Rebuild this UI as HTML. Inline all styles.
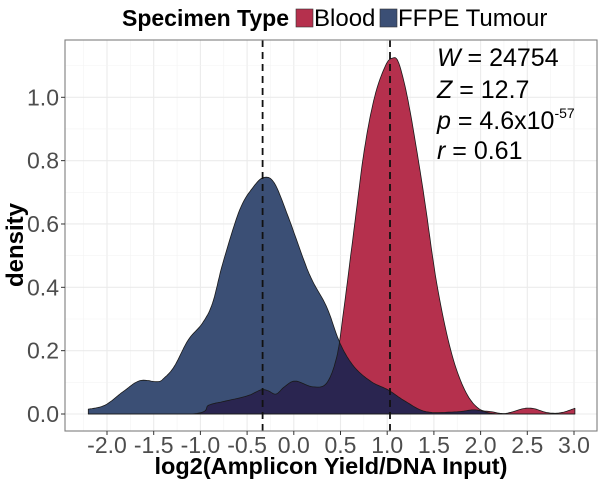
<!DOCTYPE html>
<html><head><meta charset="utf-8"><style>
body{margin:0;background:#fff;}
svg{display:block;font-family:"Liberation Sans",Arial,sans-serif;}
</style></head><body>
<svg id="chart" width="601" height="481">
<g id="grid"></g>
<g id="areas"></g>
<g id="axes"></g>
<text x="122" y="26" font-size="23" font-weight="bold">Specimen Type</text>
<rect x="296" y="9" width="17" height="18" fill="#b5304d" stroke="#333" stroke-width="0.6"/>
<text x="314" y="26" font-size="24">Blood</text>
<rect x="380" y="9" width="17" height="18" fill="#3b4f75" stroke="#333" stroke-width="0.6"/>
<text x="398" y="26" font-size="24">FFPE Tumour</text>
<g font-size="25">
<text x="437" y="66"><tspan font-style="italic">W</tspan> = 24754</text>
<text x="437" y="98"><tspan font-style="italic">Z</tspan> = 12.7</text>
<text x="437" y="129"><tspan font-style="italic">p</tspan> = 4.6x10<tspan font-size="14" dy="-11">-57</tspan></text>
<text x="437" y="159"><tspan font-style="italic">r</tspan> = 0.61</text>
</g>
<text x="331" y="474" font-size="23.5" font-weight="bold" text-anchor="middle">log2(Amplicon Yield/DNA Input)</text>
<text transform="translate(23,245) rotate(-90)" font-size="24" font-weight="bold" text-anchor="middle">density</text>
</svg>
<script>
const ffpeX=[-2.2,-2.02,-1.83,-1.65,-1.46,-1.39,-1.28,-1.13,-0.98,-0.87,-0.76,-0.58,-0.43,-0.317,-0.206,-0.06,0.163,0.35,0.496,0.644,0.83,1.01,1.2,1.42,1.75,1.94,2.12,2.31,3.01];
const ffpeY=[0.015,0.028,0.07,0.105,0.102,0.113,0.15,0.234,0.286,0.35,0.476,0.644,0.718,0.747,0.728,0.623,0.444,0.339,0.223,0.15,0.102,0.076,0.039,0.007,0.007,0.013,0.002,0,0];
const bloodX=[-2.2,-1.09,-0.91,-0.76,-0.5,-0.354,-0.28,-0.19,-0.1,0.016,0.2,0.35,0.46,0.53,0.644,0.755,0.866,0.977,1.05,1.125,1.236,1.384,1.53,1.68,1.83,1.976,2.12,2.27,2.46,2.57,2.72,2.86,3.01];
const bloodY=[0,0,0.028,0.039,0.057,0.076,0.074,0.063,0.086,0.104,0.086,0.097,0.181,0.318,0.581,0.834,1.002,1.097,1.123,1.107,0.97,0.707,0.413,0.202,0.076,0.018,0.007,0.002,0.017,0.017,0.004,0.004,0.018];
const xTicks=[-2,-1.5,-1,-0.5,0,0.5,1,1.5,2,2.5,3];
const xTickLabels=["-2.0","-1.5","-1.0","-0.5","0.0","0.5","1.0","1.5","2.0","2.5","3.0"];
const yTicks=[0,0.2,0.4,0.6,0.8,1.0];
const yTickLabels=["0.0","0.2","0.4","0.6","0.8","1.0"];
const vlines=[-0.334,1.03];
const NS="http://www.w3.org/2000/svg";
const L=65,R=597,T=40,B=431;
const sx=v=>293.8+v*93.4;
const sy=v=>414-v*316.7;
function mk(tag,attrs,parent){const e=document.createElementNS(NS,tag);for(const k in attrs)e.setAttribute(k,attrs[k]);parent.appendChild(e);return e;}
const grid=document.getElementById('grid'),areas=document.getElementById('areas'),axes=document.getElementById('axes');
mk('rect',{x:L,y:T,width:R-L,height:B-T,fill:'#fff'},grid);
for(let i=0;i<xTicks.length;i++){
  mk('line',{x1:sx(xTicks[i]+0.25),x2:sx(xTicks[i]+0.25),y1:T,y2:B,stroke:'#f3f3f3','stroke-width':0.6},grid);
  const l=mk('line',{x1:sx(xTicks[i]),x2:sx(xTicks[i]),y1:T,y2:B,stroke:'#ebebeb','stroke-width':1.1},grid);
  
  
}
mk('line',{x1:sx(-2.25),x2:sx(-2.25),y1:T,y2:B,stroke:'#f3f3f3','stroke-width':0.6},grid);
for(let i=0;i<yTicks.length;i++){
  mk('line',{x1:L,x2:R,y1:sy(yTicks[i]+0.1),y2:sy(yTicks[i]+0.1),stroke:'#f3f3f3','stroke-width':0.6},grid);
  const l=mk('line',{x1:L,x2:R,y1:sy(yTicks[i]),y2:sy(yTicks[i]),stroke:'#ebebeb','stroke-width':1.1},grid);
  
  
}
function smooth(xs,ys){
  const px=[],py=[];
  for(let i=0;i<xs.length-1;i++){
    const x0=xs[Math.max(i-1,0)],y0=ys[Math.max(i-1,0)],x1=xs[i],y1=ys[i],x2=xs[i+1],y2=ys[i+1],x3=xs[Math.min(i+2,xs.length-1)],y3=ys[Math.min(i+2,xs.length-1)];
    for(let s=0;s<10;s++){
      const t=s/10,t2=t*t,t3=t2*t;
      const cx=0.5*((2*x1)+(-x0+x2)*t+(2*x0-5*x1+4*x2-x3)*t2+(-x0+3*x1-3*x2+x3)*t3);
      const cy=0.5*((2*y1)+(-y0+y2)*t+(2*y0-5*y1+4*y2-y3)*t2+(-y0+3*y1-3*y2+y3)*t3);
      px.push(cx);py.push(Math.max(0,cy));
    }
  }
  px.push(xs[xs.length-1]);py.push(ys[ys.length-1]);
  return [px,py];
}
const [fX,fY]=smooth(ffpeX,ffpeY);
const [bX,bY]=smooth(bloodX,bloodY);
function interp(xs,ys,x){if(x<=xs[0])return ys[0];for(let i=1;i<xs.length;i++){if(x<=xs[i]){const d=xs[i]-xs[i-1];const t=d?(x-xs[i-1])/d:0;return ys[i-1]+t*(ys[i]-ys[i-1]);}}return ys[ys.length-1];}
function areaPath(xs,ys){let d='M'+sx(xs[0]).toFixed(1)+','+sy(0);for(let i=0;i<xs.length;i++)d+='L'+sx(xs[i]).toFixed(1)+','+sy(ys[i]).toFixed(1);d+='L'+sx(xs[xs.length-1]).toFixed(1)+','+sy(0)+'Z';return d;}
const pb=mk('path',{d:areaPath(fX,fY),fill:'#3b4f75',stroke:'none'},areas);


const pr=mk('path',{d:areaPath(bX,bY),fill:'#b5304d',stroke:'none'},areas);


const gx=[];for(let v=-2.2;v<=3.01;v+=0.005)gx.push(v);
const gy=gx.map(v=>Math.min(interp(fX,fY,v),interp(bX,bY,v)));
const po=mk('path',{d:areaPath(gx,gy),fill:'#2a2550',stroke:'none'},areas);


mk('path',{d:areaPath(fX,fY),fill:'none',stroke:'#1a1a1a','stroke-width':0.8,'stroke-linejoin':'round'},areas);
mk('path',{d:areaPath(bX,bY),fill:'none',stroke:'#1a1a1a','stroke-width':0.8,'stroke-linejoin':'round'},areas);
for(const v of vlines){
  const l=mk('line',{x1:sx(v),x2:sx(v),y1:T,y2:B,stroke:'#111','stroke-width':1.8,'stroke-dasharray':'7,5'},areas);
  
  
}
mk('rect',{x:L,y:T,width:R-L,height:B-T,fill:'none',stroke:'#7f7f7f','stroke-width':1.1},axes);
for(let i=0;i<xTicks.length;i++){
  mk('line',{x1:sx(xTicks[i]),x2:sx(xTicks[i]),y1:B,y2:B+4,stroke:'#333','stroke-width':1},axes);
  const t=mk('text',{x:sx(xTicks[i]),y:B+22,'font-size':23,fill:'#4d4d4d','text-anchor':'middle'},axes);
  t.textContent=xTickLabels[i];
  
  
}
for(let i=0;i<yTicks.length;i++){
  mk('line',{x1:L-4,x2:L,y1:sy(yTicks[i]),y2:sy(yTicks[i]),stroke:'#333','stroke-width':1},axes);
  const t=mk('text',{x:L-6,y:sy(yTicks[i])+8,'font-size':23,fill:'#4d4d4d','text-anchor':'end'},axes);
  t.textContent=yTickLabels[i];
  
  
}
</script>
</body></html>
